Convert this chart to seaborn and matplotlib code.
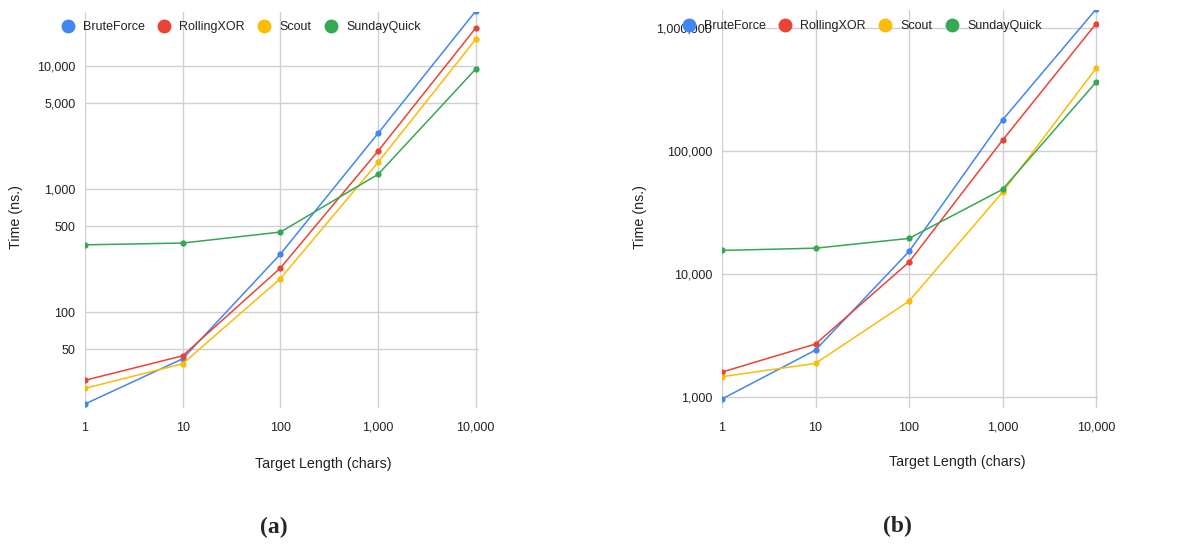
import numpy as np
import pandas as pd
import matplotlib
matplotlib.use("Agg")
import matplotlib.pyplot as plt
from matplotlib.lines import Line2D
from matplotlib.ticker import FixedLocator, FixedFormatter, NullLocator
import seaborn as sns

# ---- data ----
lengths = [1, 10, 100, 1000, 10000]
series = ["BruteForce", "RollingXOR", "Scout", "SundayQuick"]

a_brute = [17.9, 41.7, 296, 2840, 28000]
a_rolling = [27.9, 44.1, 228, 2036, 20400]
a_scout = [24.0, 38.0, 187, 1650, 16500]
a_sunday = [352, 364, 447, 1316, 9460]

b_brute = [964, 2411, 15290, 179600, 1430000]
b_rolling = [1596, 2698, 12520, 122800, 1090000]
b_scout = [1463, 1878, 6030, 46400, 473000]
b_sunday = [15590, 16260, 19520, 48900, 364000]

a_yticks = [50, 100, 500, 1000, 5000, 10000]
b_yticks = [1000, 10000, 100000, 1000000]
xticks = [1, 10, 100, 1000, 10000]

colors = ["#4285F4", "#EA4335", "#FBBC04", "#34A853"]

sns.set_theme(style="white")
plt.rcParams["font.family"] = ["Liberation Sans", "DejaVu Sans"]

def make_df(vals):
    rows = []
    for name, v in zip(series, vals):
        for x, y in zip(lengths, v):
            rows.append({"Target Length (chars)": x, "Time (ns.)": y, "series": name})
    return pd.DataFrame(rows)

df_a = make_df([a_brute, a_rolling, a_scout, a_sunday])
df_b = make_df([b_brute, b_rolling, b_scout, b_sunday])

W, H = 1203, 546
fig = plt.figure(figsize=(W / 100, H / 100), dpi=100)

def px_axes(x0, y0, x1, y1):
    return fig.add_axes([x0 / W, 1 - y1 / H, (x1 - x0) / W, (y1 - y0) / H])

ax_a = px_axes(85, 12, 479, 408)
ax_b = px_axes(722, 10, 1098, 408)

fmt = lambda v: f"{v:,}"
TICK_FS = 9.0
TITLE_FS = 10.3

def style(ax, df, yticks, ylim, xlim):
    sns.lineplot(data=df, x="Target Length (chars)", y="Time (ns.)", hue="series",
                 palette=colors, marker="o", markersize=4.5, markeredgewidth=0,
                 linewidth=1.1, ax=ax, legend=False, zorder=3)
    ax.set_xscale("log")
    ax.set_yscale("log")
    ax.set_xlim(*xlim)
    ax.set_ylim(*ylim)
    ax.xaxis.set_major_locator(FixedLocator(xticks))
    ax.xaxis.set_major_formatter(FixedFormatter([fmt(t) for t in xticks]))
    ax.yaxis.set_major_locator(FixedLocator(yticks))
    ax.yaxis.set_major_formatter(FixedFormatter([fmt(t) for t in yticks]))
    ax.xaxis.set_minor_locator(NullLocator())
    ax.yaxis.set_minor_locator(NullLocator())
    ax.grid(True, which="major", color="#d0d0d0", linewidth=1.0)
    for s in ax.spines.values():
        s.set_visible(False)
    ax.tick_params(axis="both", length=0, labelsize=TICK_FS, colors="#222222")
    ax.tick_params(axis="x", pad=10)
    ax.tick_params(axis="y", pad=7)
    ax.set_xlabel("")
    ax.set_ylabel("")

style(ax_a, df_a, a_yticks, (16.6, 27500), (1, 10800))
style(ax_b, df_b, b_yticks, (814, 1.41e6), (1, 10500))

# axis titles
fig.text(16 / W, 1 - 217 / H, "Time (ns.)", rotation=90, ha="center", va="center",
         fontsize=TITLE_FS, color="#222222")
fig.text(640 / W, 1 - 217 / H, "Time (ns.)", rotation=90, ha="center", va="center",
         fontsize=TITLE_FS, color="#222222")
fig.text(323 / W, 1 - 464 / H, "Target Length (chars)", ha="center", va="center",
         fontsize=TITLE_FS, color="#222222")
fig.text(957 / W, 1 - 462 / H, "Target Length (chars)", ha="center", va="center",
         fontsize=TITLE_FS, color="#222222")

# sub-captions
fig.text(274 / W, 1 - 527 / H, "(a)", ha="center", va="center", fontsize=17,
         fontweight="bold", family=["Liberation Serif", "DejaVu Serif"])
fig.text(897 / W, 1 - 526 / H, "(b)", ha="center", va="center", fontsize=17,
         fontweight="bold", family=["Liberation Serif", "DejaVu Serif"])

# legends
handles = [Line2D([0], [0], marker="o", linestyle="none", markersize=10,
                  markerfacecolor=c, markeredgewidth=0) for c in colors]

def add_legend(ax, x_px, y_px):
    leg = ax.legend(handles, series, ncol=4, frameon=False, fontsize=TICK_FS,
                    loc="center left", bbox_to_anchor=(x_px / W, 1 - y_px / H),
                    bbox_transform=fig.transFigure, handlelength=0.9,
                    handletextpad=0.75, columnspacing=1.12, borderaxespad=0,
                    borderpad=0)
    for t in leg.get_texts():
        t.set_color("#222222")
    leg.set_zorder(10)
    return leg

add_legend(ax_a, 62, 27)
add_legend(ax_b, 683, 26)

fig.savefig("out.png", dpi=100, facecolor="white")
